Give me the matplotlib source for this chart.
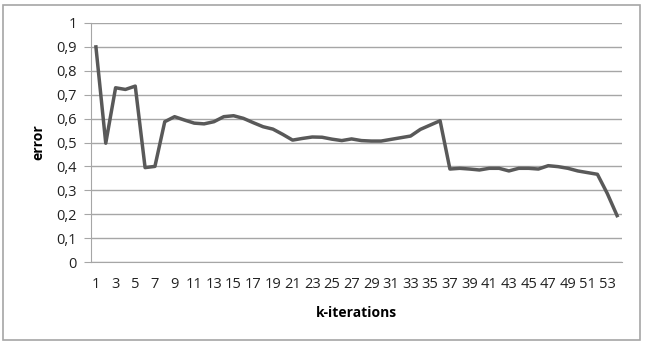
import matplotlib.pyplot as plt
from matplotlib.patches import Rectangle
from matplotlib.ticker import FuncFormatter

# error per iteration
k = list(range(1, 55))
error = [0.90, 0.497, 0.729, 0.722, 0.736, 0.395, 0.40, 0.587, 0.608, 0.594,
         0.581, 0.578, 0.587, 0.608, 0.612, 0.601, 0.583, 0.566, 0.556, 0.534,
         0.510, 0.517, 0.523, 0.522, 0.514, 0.508, 0.515, 0.508, 0.506, 0.506,
         0.513, 0.520, 0.527, 0.555, 0.573, 0.591, 0.389, 0.392, 0.389, 0.385,
         0.392, 0.392, 0.381, 0.392, 0.392, 0.389, 0.403, 0.399, 0.392, 0.381,
         0.374, 0.367, 0.287, 0.194]
yticks = [0, 0.1, 0.2, 0.3, 0.4, 0.5, 0.6, 0.7, 0.8, 0.9, 1]

plt.rcParams['font.family'] = ['Open Sans', 'DejaVu Sans']

fig = plt.figure(figsize=(6.47, 3.45), dpi=100)
fig.patches.append(Rectangle((3 / 647, 5 / 345), 637 / 647, 335 / 345,
                             transform=fig.transFigure, fill=False,
                             edgecolor='#a6a6a6', linewidth=1.2))

ax = fig.add_axes([91 / 647, 83 / 345, 531 / 647, 239 / 345])
ax.plot(k, error, color='#595959', linewidth=2.5, solid_joinstyle='round')

ax.set_xlim(0.5, 54.5)
ax.set_ylim(0, 1)
ax.set_yticks(yticks)
ax.yaxis.set_major_formatter(FuncFormatter(lambda v, p: ('%g' % v).replace('.', ',')))
ax.set_xticks(k[::2])
ax.set_xticklabels([str(i) for i in k[::2]])
ax.grid(axis='y', color='#a6a6a6', linewidth=1)
ax.set_axisbelow(True)

for s in ['top', 'right']:
    ax.spines[s].set_visible(False)
ax.spines['left'].set_color('#a6a6a6')
ax.spines['bottom'].set_color('#a6a6a6')
ax.tick_params(axis='y', length=5, color='#a6a6a6', labelsize=10.5, pad=5, labelcolor='#222222')
ax.tick_params(axis='x', length=0, labelsize=10.5, pad=11, labelcolor='#222222')

ax.set_xlabel('k-iterations', fontsize=10, fontweight='bold', labelpad=10)
ax.set_ylabel('error', fontsize=10, fontweight='bold', labelpad=8)

fig.savefig('out.png', dpi=100)
